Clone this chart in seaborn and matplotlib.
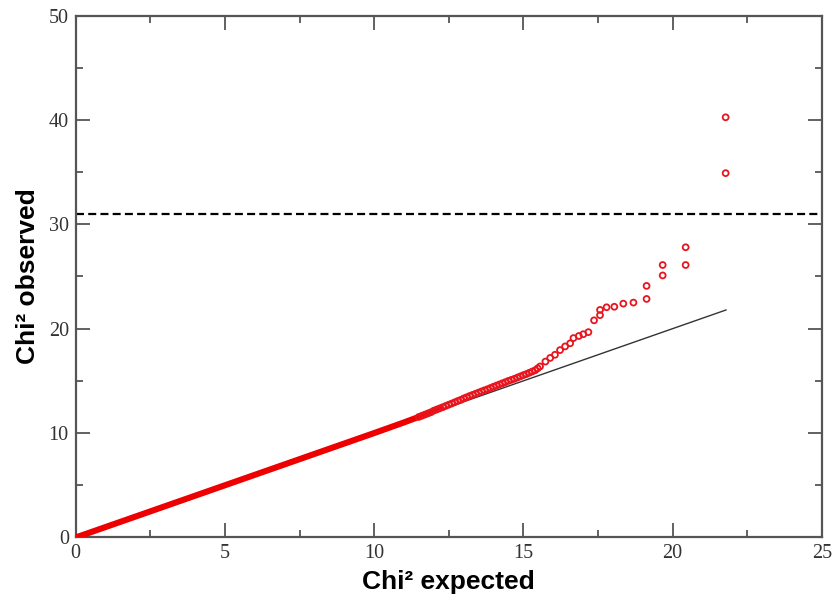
import matplotlib
matplotlib.use("Agg")
import matplotlib.pyplot as plt
import seaborn as sns
import pandas as pd
from matplotlib.ticker import MultipleLocator

# Dense bulk of the QQ points (overlapping markers form a solid band)
bulk_expected = [0.0, 1.0, 2.0, 3.0, 4.0, 5.0, 6.0, 7.0, 8.0, 9.0, 10.0, 11.0, 11.6, 12.2]
bulk_observed = [0.0, 1.0, 2.0, 3.0, 4.0, 5.0, 6.0, 7.0, 8.0, 9.0, 10.0, 11.02, 11.66, 12.37]

# Individually visible points in the upper tail
tail_expected = [11.5, 11.6, 11.7, 11.8, 11.9, 12.0, 12.1, 12.2, 12.3, 12.4,
                 12.5, 12.6, 12.7, 12.8, 12.9, 13.0, 13.1, 13.2, 13.3, 13.4,
                 13.5, 13.6, 13.7, 13.8, 13.9, 14.0, 14.1, 14.2, 14.3, 14.4,
                 14.5, 14.6, 14.7, 14.8, 14.9, 15.0, 15.1, 15.2, 15.3, 15.4,
                 15.48, 15.56, 15.74, 15.9, 16.06, 16.23, 16.4, 16.57, 16.68, 16.86,
                 17.01, 17.18, 17.37, 17.57, 17.57, 17.79, 18.05, 18.35, 18.69, 19.13,
                 19.13, 19.67, 19.67, 20.44, 20.44, 21.78, 21.78]
tail_observed = [11.55, 11.66, 11.77, 11.88, 11.99, 12.15, 12.26, 12.37, 12.48, 12.6,
                 12.72, 12.83, 12.95, 13.07, 13.18, 13.32, 13.43, 13.55, 13.66, 13.77,
                 13.88, 13.99, 14.1, 14.2, 14.32, 14.44, 14.55, 14.66, 14.77, 14.88,
                 15.0, 15.1, 15.2, 15.32, 15.43, 15.55, 15.65, 15.78, 15.9, 16.02,
                 16.2, 16.38, 16.85, 17.2, 17.5, 17.95, 18.3, 18.6, 19.1, 19.3,
                 19.47, 19.67, 20.8, 21.3, 21.8, 22.05, 22.1, 22.4, 22.5, 22.85,
                 24.1, 25.1, 26.1, 26.1, 27.8, 34.9, 40.25]

# Reference line y = x and significance threshold
ref_x = [0.0, 21.8]
ref_y = [0.0, 21.8]
threshold = 31.0

x_ticks = [0, 5, 10, 15, 20, 25]
y_ticks = [0, 10, 20, 30, 40, 50]

sns.set_style("ticks")
plt.rcParams["font.family"] = ["Liberation Serif", "DejaVu Serif"]

fig = plt.figure(figsize=(8.35, 6.01), dpi=100)
ax = fig.add_axes([0.0907, 0.1057, 0.8934, 0.8685])

bulk = pd.DataFrame({"expected": bulk_expected, "observed": bulk_observed})
tail = pd.DataFrame({"expected": tail_expected, "observed": tail_observed})
ref = pd.DataFrame({"expected": ref_x, "observed": ref_y})

sns.lineplot(data=bulk, x="expected", y="observed", ax=ax, color="#ee0000",
             linewidth=4.4, solid_capstyle="round", sort=False, zorder=3)
sns.scatterplot(data=tail, x="expected", y="observed", ax=ax, marker="o",
                s=18, facecolors="none", edgecolor="#e8141e", linewidth=1.3, zorder=4)
sns.lineplot(data=ref, x="expected", y="observed", ax=ax, color="#333333",
             linewidth=1.0, zorder=2)
ax.axhline(threshold, color="black", linewidth=1.6, linestyle=(0, (3.6, 1.9)), zorder=1)

ax.set_xlim(0, 25)
ax.set_ylim(0, 50)
ax.set_xticks(x_ticks)
ax.set_yticks(y_ticks)
ax.xaxis.set_minor_locator(MultipleLocator(2.5))
ax.yaxis.set_minor_locator(MultipleLocator(5))

ax.tick_params(which="both", direction="in", top=True, right=True,
               color="#555555", width=1.3)
ax.tick_params(which="major", length=10, labelsize=14.5, labelcolor="#333333", pad=5)
ax.tick_params(which="minor", length=5)
for sp in ax.spines.values():
    sp.set_color("#555555")
    sp.set_linewidth(1.6)

lab_font = dict(family=["Liberation Sans", "DejaVu Sans"], weight="bold", size=19, color="black")
ax.set_xlabel("Chi² expected", labelpad=5, **lab_font)
ax.set_ylabel("Chi² observed", labelpad=6, **lab_font)

fig.savefig("out.png", dpi=100, facecolor="white")
